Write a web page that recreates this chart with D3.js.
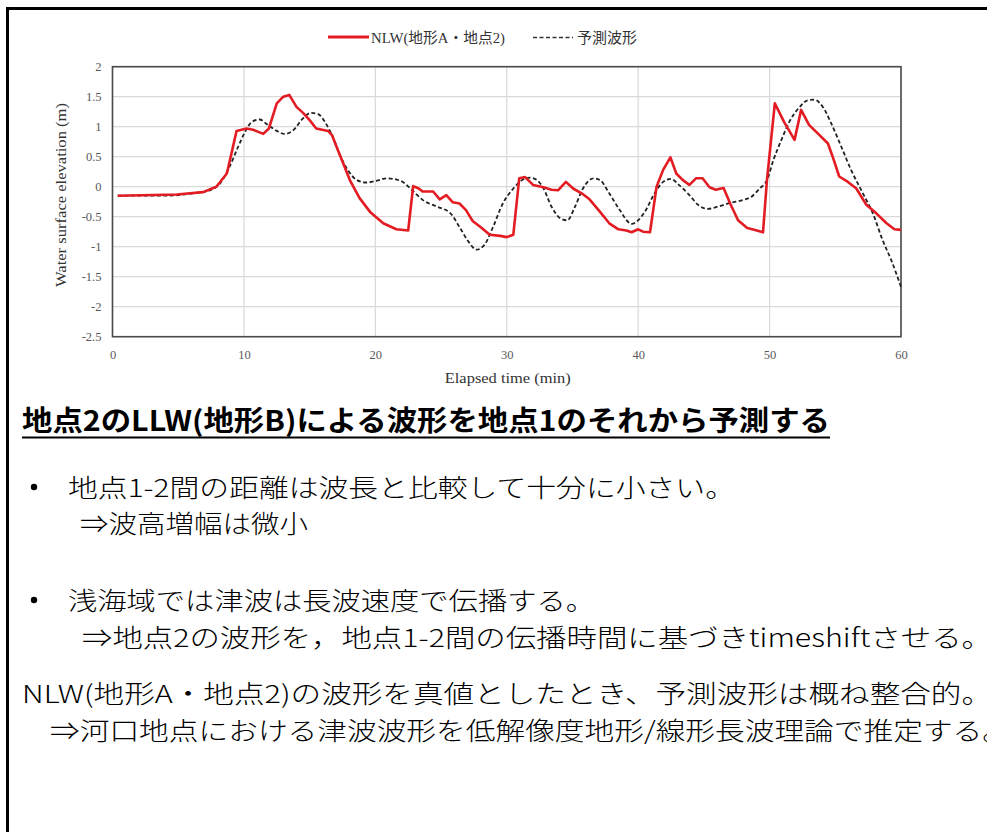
<!DOCTYPE html>
<html>
<head>
<meta charset="utf-8">
<script src="https://cdn.jsdelivr.net/npm/d3@7"></script>
<style>
  html, body { margin: 0; padding: 0; background: #fff; overflow: hidden; }
  svg { display: block; }
</style>
</head>
<body>
<svg id="chart" width="987" height="832"></svg>
<script>
// Water surface elevation at point 2: NLW (terrain A) result, time in minutes
const nlwTime = [0.4, 4.9, 6.9, 7.9, 8.7, 9.06, 9.44, 10.2, 10.7, 11.47, 11.9, 12.5, 13.0, 13.45, 14.0, 14.5, 15.0, 15.5, 16.4, 16.7, 17.3, 18.06, 18.8, 19.6, 20.6, 21.6, 22.5, 22.88, 23.3, 23.6, 24.4, 24.9, 25.4, 25.9, 26.4, 26.9, 27.4, 28.1, 28.7, 29.5, 30.0, 30.5, 30.95, 31.4, 32.0, 32.8, 33.4, 33.9, 34.5, 35.05, 35.7, 36.3, 37.1, 37.8, 38.5, 39.1, 39.5, 40.0, 40.37, 40.9, 41.4, 41.9, 42.45, 42.9, 43.4, 43.9, 44.4, 44.9, 45.43, 45.9, 46.5, 47.0, 47.6, 48.3, 48.9, 49.5, 49.8, 50.4, 51.1, 51.9, 52.4, 53.0, 53.8, 54.44, 54.8, 55.3, 55.96, 56.6, 57.36, 58.1, 58.9, 59.5, 60];
const nlwElev = [-0.15, -0.13, -0.09, 0, 0.22, 0.56, 0.93, 0.97, 0.95, 0.88, 0.97, 1.39, 1.5, 1.53, 1.33, 1.23, 1.11, 0.97, 0.93, 0.86, 0.53, 0.11, -0.19, -0.42, -0.61, -0.71, -0.73, 0.01, -0.03, -0.08, -0.08, -0.21, -0.14, -0.26, -0.28, -0.39, -0.57, -0.69, -0.8, -0.82, -0.84, -0.8, 0.14, 0.16, 0.03, -0.01, -0.05, -0.06, 0.08, -0.03, -0.11, -0.21, -0.42, -0.61, -0.71, -0.73, -0.76, -0.71, -0.75, -0.76, 0, 0.28, 0.49, 0.22, 0.11, 0.03, 0.14, 0.14, -0.01, -0.05, -0.02, -0.28, -0.56, -0.69, -0.72, -0.76, 0.11, 1.39, 1.08, 0.78, 1.28, 1.03, 0.86, 0.72, 0.5, 0.17, 0.08, -0.03, -0.3, -0.44, -0.61, -0.71, -0.72];

// Predicted waveform (time-shifted LLW result)
const predTime = [0.4, 2.1, 4.1, 6.1, 7.4, 8.2, 8.9, 9.57, 10.1, 10.6, 11.2, 11.7, 12.5, 13.1, 13.75, 14.5, 15.1, 15.65, 16.16, 16.7, 17.3, 17.9, 18.6, 19.3, 20.3, 20.85, 21.9, 22.9, 23.6, 24.65, 25.7, 26.4, 27.1, 27.7, 28.3, 28.96, 29.7, 30.5, 31.24, 31.75, 32.3, 32.8, 33.4, 34.1, 34.6, 35.2, 35.8, 36.6, 37.1, 37.8, 38.6, 39.5, 40.5, 41.25, 41.9, 42.5, 43.1, 43.9, 44.6, 45.3, 46.1, 47.0, 48.0, 48.6, 49.25, 49.8, 50.3, 50.9, 51.5, 52.3, 52.9, 53.4, 54.05, 54.7, 55.45, 56.2, 57.1, 57.85, 58.6, 59.25, 60];
const predElev = [-0.15, -0.15, -0.15, -0.11, -0.06, 0.06, 0.33, 0.67, 0.92, 1.08, 1.12, 1.05, 0.93, 0.88, 0.94, 1.14, 1.23, 1.21, 1.08, 0.86, 0.53, 0.28, 0.11, 0.07, 0.11, 0.14, 0.1, -0.08, -0.22, -0.33, -0.44, -0.67, -0.92, -1.05, -0.97, -0.67, -0.28, -0.03, 0.12, 0.15, 0.11, -0.03, -0.33, -0.53, -0.56, -0.33, -0.03, 0.14, 0.11, -0.11, -0.39, -0.62, -0.42, -0.11, 0.08, 0.13, 0.03, -0.14, -0.31, -0.37, -0.33, -0.27, -0.22, -0.17, -0.03, 0.11, 0.45, 0.78, 1.08, 1.33, 1.44, 1.45, 1.33, 1.05, 0.67, 0.28, -0.11, -0.44, -0.89, -1.22, -1.67];

const xTicks = [0, 10, 20, 30, 40, 50, 60];
const yTicks = [2, 1.5, 1, 0.5, 0, -0.5, -1, -1.5, -2, -2.5];
const seriesNames = ["NLW(地形A・地点2)", "予測波形"];
const xTitle = "Elapsed time (min)";
const yTitle = "Water surface elevation (m)";

const heading = "地点2のLLW(地形B)による波形を地点1のそれから予測する";
const notes = [
  "地点1-2間の距離は波長と比較して十分に小さい。",
  "⇒波高増幅は微小",
  "浅海域では津波は長波速度で伝播する。",
  "⇒地点2の波形を，地点1-2間の伝播時間に基づきtimeshiftさせる。",
  "NLW(地形A・地点2)の波形を真値としたとき、予測波形は概ね整合的。",
  "⇒河口地点における津波波形を低解像度地形/線形長波理論で推定する。"
];

const svg = d3.select("#chart");
const serif = "'Liberation Serif', 'Times New Roman', 'Noto Sans CJK JP', serif";
const sans = "'Noto Sans CJK JP', 'Noto Sans', sans-serif";

// slide frame
svg.append("rect")
  .attr("x", 7.5).attr("y", 8.5)
  .attr("width", 1010).attr("height", 900)
  .attr("fill", "none").attr("stroke", "#000").attr("stroke-width", 3);

// plot area
const plot = { left: 112.5, right: 901, top: 66.7, bottom: 336.7 };
const x = d3.scaleLinear().domain([0, 60]).range([plot.left, plot.right]);
const y = d3.scaleLinear().domain([-2.5, 2]).range([plot.bottom, plot.top]);

const g = svg.append("g");

// gridlines
g.append("g").selectAll("line").data(yTicks).join("line")
  .attr("x1", plot.left).attr("x2", plot.right)
  .attr("y1", d => y(d)).attr("y2", d => y(d))
  .attr("stroke", "#d9d9d9").attr("stroke-width", 1.2);
g.append("g").selectAll("line").data(xTicks).join("line")
  .attr("x1", d => x(d)).attr("x2", d => x(d))
  .attr("y1", plot.top).attr("y2", plot.bottom)
  .attr("stroke", "#d9d9d9").attr("stroke-width", 1.2);

// axes (labels only, the frame is drawn separately)
const xAxis = d3.axisBottom(x).tickValues(xTicks).tickSize(0).tickPadding(13).tickFormat(d => String(d));
const yAxis = d3.axisLeft(y).tickValues(yTicks).tickSize(0).tickPadding(11).tickFormat(d => String(d));
const gx = g.append("g").attr("transform", `translate(0,${plot.bottom})`).call(xAxis);
const gy = g.append("g").attr("transform", `translate(${plot.left},0)`).call(yAxis);
[gx, gy].forEach(a => {
  a.select(".domain").remove();
  a.selectAll("text").attr("font-family", serif).attr("font-size", 12.5).attr("fill", "#595959");
});

// plot frame
g.append("rect")
  .attr("x", plot.left).attr("y", plot.top)
  .attr("width", plot.right - plot.left).attr("height", plot.bottom - plot.top)
  .attr("fill", "none").attr("stroke", "#4a4a4a").attr("stroke-width", 1.6);

// series
const nlw = nlwTime.map((t, i) => [t, nlwElev[i]]);
const pred = predTime.map((t, i) => [t, predElev[i]]);
const line = d3.line().x(d => x(d[0])).y(d => y(d[1]));
const smooth = d3.line().x(d => x(d[0])).y(d => y(d[1])).curve(d3.curveMonotoneX);

g.append("path").datum(pred).attr("d", smooth)
  .attr("fill", "none").attr("stroke", "#222").attr("stroke-width", 1.8)
  .attr("stroke-dasharray", "4,2.5");
g.append("path").datum(nlw).attr("d", line)
  .attr("fill", "none").attr("stroke", "#e31c23").attr("stroke-width", 2.6)
  .attr("stroke-linejoin", "round");

// axis titles
g.append("text").text(xTitle)
  .attr("x", (plot.left + plot.right) / 2 + 1).attr("y", 383)
  .attr("text-anchor", "middle")
  .attr("font-family", serif).attr("font-size", 15).attr("fill", "#333")
  .attr("textLength", 126).attr("lengthAdjust", "spacingAndGlyphs");
g.append("text").text(yTitle)
  .attr("transform", "translate(66,195) rotate(-90)")
  .attr("text-anchor", "middle")
  .attr("font-family", serif).attr("font-size", 15).attr("fill", "#333")
  .attr("textLength", 184).attr("lengthAdjust", "spacingAndGlyphs");

// legend
const lg = svg.append("g");
lg.append("line").attr("x1", 328).attr("x2", 369).attr("y1", 37).attr("y2", 37)
  .attr("stroke", "#e31c23").attr("stroke-width", 3);
lg.append("text").text(seriesNames[0]).attr("x", 371).attr("y", 42.5)
  .attr("font-family", serif).attr("font-size", 14.5).attr("fill", "#333")
  .attr("textLength", 134).attr("lengthAdjust", "spacingAndGlyphs");
lg.append("line").attr("x1", 533).attr("x2", 573).attr("y1", 37.5).attr("y2", 37.5)
  .attr("stroke", "#333").attr("stroke-width", 1.4).attr("stroke-dasharray", "4,2.5");
lg.append("text").text(seriesNames[1]).attr("x", 577).attr("y", 42.5)
  .attr("font-family", serif).attr("font-size", 14.5).attr("fill", "#333")
  .attr("textLength", 60).attr("lengthAdjust", "spacingAndGlyphs");

// notes block
const tg = svg.append("g").attr("font-family", sans).attr("fill", "#000");
tg.append("text").text(heading)
  .attr("x", 22).attr("y", 431)
  .attr("font-size", 28).attr("font-weight", "bold")
  .attr("textLength", 808).attr("lengthAdjust", "spacingAndGlyphs");
tg.append("line").attr("x1", 22).attr("x2", 830).attr("y1", 437.5).attr("y2", 437.5)
  .attr("stroke", "#000").attr("stroke-width", 1.8);

const rows = [
  { text: notes[0], x: 68, y: 496.5, len: 667 },
  { text: notes[1], x: 80, y: 533, len: 228 },
  { text: notes[2], x: 68, y: 610, len: 527 },
  { text: notes[3], x: 82, y: 646.5, len: 910 },
  { text: notes[4], x: 22, y: 703, len: 970 },
  { text: notes[5], x: 50, y: 739.5, len: 962 }
];
tg.selectAll("text.row").data(rows).join("text")
  .attr("class", "row")
  .attr("x", d => d.x).attr("y", d => d.y)
  .attr("font-size", 25).attr("font-weight", 300)
  .attr("textLength", d => d.len).attr("lengthAdjust", "spacingAndGlyphs")
  .text(d => d.text);

// bullets
tg.selectAll("circle").data([487, 600]).join("circle")
  .attr("cx", 34).attr("cy", d => d).attr("r", 3.2).attr("fill", "#000");
</script>
</body>
</html>
